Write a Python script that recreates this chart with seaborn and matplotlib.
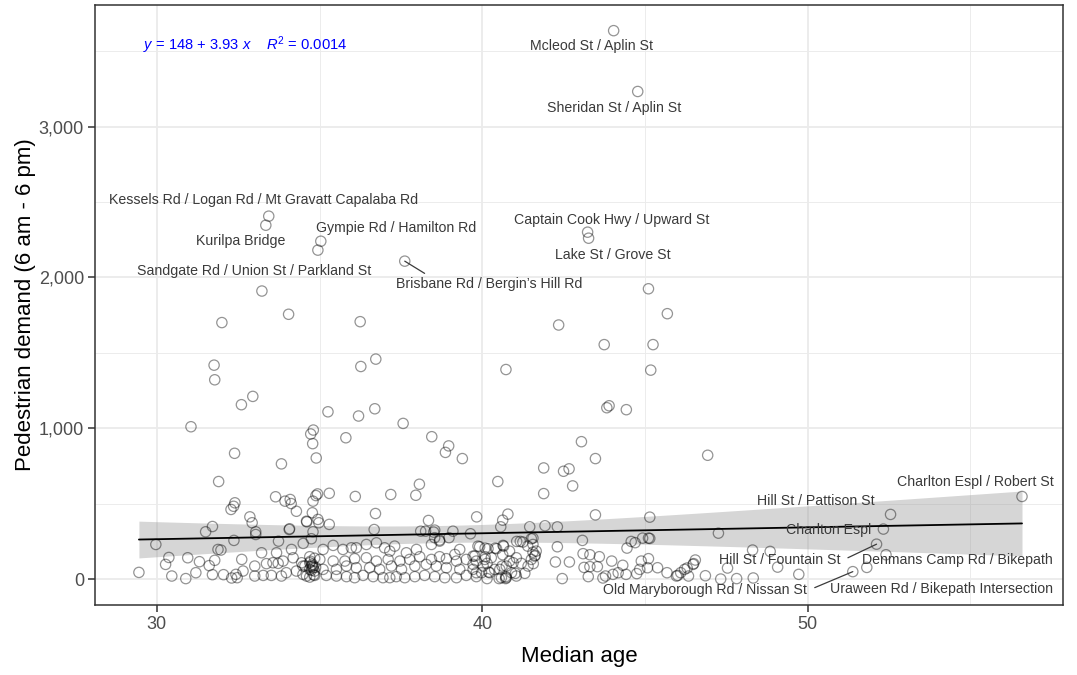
import numpy as np
import pandas as pd
import matplotlib
matplotlib.use("Agg")
import matplotlib.pyplot as plt
import seaborn as sns
from matplotlib.ticker import FuncFormatter, MultipleLocator

sns.set_theme(style="white")
plt.rcParams["font.family"] = ["Liberation Sans", "DejaVu Sans"]
plt.rcParams["mathtext.fontset"] = "custom"
plt.rcParams["mathtext.rm"] = "Liberation Sans"
plt.rcParams["mathtext.it"] = "Liberation Sans:italic"

# ---- Intersections: median age of the catchment vs. daytime pedestrian counts ----
age_upper = [44.04, 44.78, 33.44, 33.35, 35.04, 34.95, 37.62, 43.24, 43.27,
             33.23, 32.0, 34.05, 36.25, 36.73, 36.27, 31.76, 31.78, 32.95, 32.6,
             35.26, 36.2, 36.7, 37.57, 31.05, 34.81, 34.73, 34.79, 34.9, 35.81,
             32.39, 33.83, 38.45, 38.97, 38.87, 39.39, 45.11, 45.69, 42.35, 43.75,
             45.25, 40.73, 45.18, 43.83, 43.9, 44.43, 43.05, 43.48, 46.93, 41.89,
             42.5, 42.67]
demand_upper = [3635, 3232, 2406, 2346, 2240, 2181, 2108, 2300, 2260,
                1910, 1701, 1756, 1707, 1459, 1410, 1419, 1322, 1212, 1157,
                1110, 1082, 1130, 1033, 1011, 989, 963, 899, 804, 938,
                835, 765, 945, 884, 841, 800, 1925, 1760, 1685, 1555,
                1555, 1390, 1386, 1137, 1150, 1124, 912, 800, 822, 738,
                716, 732]

age_mid = [31.9, 32.4, 32.36, 32.28, 32.86, 32.93, 33.04, 33.04, 31.71, 31.5,
           29.97, 33.65, 33.94, 34.1, 34.13, 34.29, 34.8, 34.89, 34.94, 34.78,
           34.61, 34.95, 34.98, 35.3, 35.3, 34.08, 34.8, 36.1, 36.72, 36.68,
           37.19, 37.96, 38.07, 38.35, 39.83, 38.54, 39.64, 39.1, 38.11, 40.48,
           41.89, 42.78, 43.48, 45.15, 40.79, 40.63, 40.57, 41.46, 41.93, 42.31,
           47.26, 52.55, 52.33, 56.59, 34.07, 34.6, 34.75, 38.26, 38.51]
demand_mid = [648, 507, 484, 463, 414, 375, 315, 297, 350, 315,
              231, 547, 518, 529, 502, 451, 518, 555, 566, 441,
              381, 397, 375, 570, 364, 335, 315, 549, 436, 330,
              562, 557, 630, 390, 414, 326, 302, 319, 319, 648,
              568, 619, 427, 412, 432, 392, 348, 348, 355, 348,
              306, 430, 333, 549, 330, 385, 269, 319, 313]

age_low_west = [29.45, 30.37, 30.27, 30.95, 31.31, 31.61, 31.78, 32.61, 31.2,
                30.89, 30.46, 31.88, 31.97, 33.74, 32.37, 34.5, 31.71, 32.05,
                32.3, 32.47, 32.43, 32.65, 33.01, 33.01, 33.22, 33.37, 33.57,
                33.73, 33.88, 33.68, 34.14, 34.19, 33.98, 33.83, 33.27, 33.52,
                34.29, 34.49, 34.6, 34.45, 34.72, 34.78, 34.85, 34.75, 34.82,
                34.88, 34.7, 34.7, 34.75, 34.8, 34.7, 34.85]
demand_low_west = [46, 145, 99, 143, 117, 91, 126, 132, 44,
                   5, 22, 198, 194, 253, 258, 238, 31, 31,
                   9, 11, 33, 55, 88, 22, 176, 104, 110,
                   106, 121, 176, 198, 143, 44, 22, 26, 26,
                   55, 88, 22, 110, 120, 100, 140, 60, 30,
                   80, 15, 110, 88, 77, 66, 55]

age_low_centre = [35.11, 35.42, 35.72, 35.98, 36.13, 36.44, 36.75, 37.0, 37.31,
                  37.16, 37.67, 37.98, 38.44, 38.69, 39.31, 39.16, 39.72, 39.87,
                  34.7, 35.01, 35.42, 35.78, 36.08, 36.44, 36.75, 37.11, 37.47,
                  37.77, 38.08, 38.44, 38.69, 38.9, 39.21, 39.51, 39.82,
                  34.55, 34.8, 35.11, 35.52, 35.83, 36.13, 36.54, 36.85, 37.21,
                  37.52, 37.93, 38.28, 38.59, 38.9, 39.31, 39.72,
                  34.49, 34.85, 35.21, 35.52, 35.83, 36.08, 36.34, 36.65, 36.95,
                  37.16, 37.36, 37.62, 37.93, 38.23, 38.54, 38.85, 39.21, 39.51,
                  39.82, 38.54, 38.98, 38.69]
demand_low_centre = [198, 225, 198, 209, 209, 231, 242, 209, 220,
                     187, 176, 198, 231, 253, 198, 165, 154, 220,
                     150, 132, 121, 121, 137, 143, 121, 132, 121,
                     132, 150, 132, 150, 137, 121, 132, 121,
                     88, 88, 66, 66, 88, 77, 77, 66, 88,
                     66, 88, 99, 88, 77, 66, 66,
                     33, 26, 26, 22, 18, 11, 26, 18, 11,
                     11, 18, 11, 18, 26, 18, 11, 11, 26,
                     18, 276, 276, 260]

age_low_east = [42.31, 41.56, 41.17, 41.06, 41.4, 41.56, 41.63, 41.57, 41.31,
                41.02, 40.66, 40.63, 40.84, 41.2, 40.61, 40.4, 40.09, 40.09,
                40.15, 40.2, 39.98, 40.72, 40.52, 40.15, 40.72, 40.38,
                41.25, 41.51, 41.56, 41.66, 41.61, 41.51, 41.41, 39.92, 40.18,
                40.44, 40.64, 40.84, 41.05, 40.95, 40.74, 40.54, 40.28, 40.08,
                39.77, 39.72, 40.03, 39.82, 40.23, 40.59, 40.74, 40.9, 41.05,
                42.68, 42.25, 42.46, 43.26, 43.08, 43.1, 43.31, 43.13, 43.31,
                43.54, 43.6, 44.32, 43.98, 43.71, 43.79, 44.02, 44.18, 44.42,
                44.45, 44.58, 44.7, 44.93, 45.11, 44.75, 44.89, 45.11, 45.08,
                45.39, 45.68, 46.01, 46.34, 46.1, 46.3, 46.5, 46.55, 45.97,
                46.22, 46.48, 45.15, 44.84, 46.86, 47.33, 47.82, 48.33, 47.54,
                49.08, 48.31, 48.85, 49.73, 51.39, 51.82, 52.12, 52.41]
demand_low_east = [216, 273, 251, 251, 220, 180, 159, 104, 40,
                   40, 220, 163, 121, 106, 88, 207, 207, 150,
                   106, 48, 44, 5, 5, 5, 18, 66,
                   247, 269, 231, 187, 154, 132, 88, 216, 203,
                   203, 225, 187, 143, 110, 88, 66, 143, 132,
                   154, 99, 88, 44, 44, 11, 11, 44, 22,
                   115, 115, 5, 18, 258, 170, 163, 79, 84,
                   84, 150, 93, 121, 9, 22, 33, 44, 33,
                   207, 251, 243, 273, 273, 38, 121, 137, 77,
                   77, 44, 26, 22, 44, 75, 104, 128, 22,
                   66, 99, 271, 66, 24, 2, 5, 9, 75,
                   81, 194, 185, 33, 51, 79, 233, 163]

# Named sites and the coordinates of the site they describe
site_names = ["Mcleod St / Aplin St", "Sheridan St / Aplin St",
              "Kessels Rd / Logan Rd / Mt Gravatt Capalaba Rd", "Kurilpa Bridge",
              "Gympie Rd / Hamilton Rd", "Sandgate Rd / Union St / Parkland St",
              "Brisbane Rd / Bergin\u2019s Hill Rd", "Captain Cook Hwy / Upward St",
              "Lake St / Grove St", "Charlton Espl / Robert St",
              "Hill St / Pattison St", "Charlton Espl", "Hill St / Fountain St",
              "Denmans Camp Rd / Bikepath", "Old Maryborough Rd / Nissan St",
              "Uraween Rd / Bikepath Intersection"]
site_age = [44.04, 44.78, 33.44, 33.35, 35.04, 34.95, 37.62, 43.24, 43.27,
            56.59, 52.55, 52.33, 52.12, 51.82, 51.39, 52.41]
site_demand = [3635, 3232, 2406, 2346, 2240, 2181, 2108, 2300, 2260,
               549, 430, 333, 233, 79, 51, 163]

# Fitted model reported on the chart
INTERCEPT, SLOPE, R2 = 148, 3.93, 0.0014

df = pd.DataFrame({
    "median_age": age_upper + age_mid + age_low_west + age_low_centre + age_low_east,
    "demand": demand_upper + demand_mid + demand_low_west + demand_low_centre + demand_low_east,
})

# ---- figure ----
fig = plt.figure(figsize=(10.77, 6.75), dpi=100)
ax = fig.add_axes([0.0882, 0.1037, 0.8988, 0.8889])

# confidence band of the linear fit
x = df["median_age"].to_numpy(float)
y = df["demand"].to_numpy(float)
n = len(x)
xbar = x.mean()
sxx = ((x - xbar) ** 2).sum()
resid = y - (INTERCEPT + SLOPE * x)
s = np.sqrt((resid ** 2).sum() / (n - 2))
xs = np.linspace(x.min(), x.max(), 120)
fit = INTERCEPT + SLOPE * xs
half = 1.966 * s * np.sqrt(1.0 / n + (xs - xbar) ** 2 / sxx)

sns.scatterplot(data=df, x="median_age", y="demand", ax=ax, s=55,
                facecolor="none", edgecolor="black", alpha=0.42, linewidth=0.9,
                zorder=3)
ax.fill_between(xs, fit - half, fit + half, color="#999999", alpha=0.4,
                linewidth=0, zorder=2)
sns.lineplot(x=xs, y=fit, ax=ax, color="black", linewidth=1.3, zorder=4)

# site labels (text position in data units, optional leader segment)
label_pos = {
    "Mcleod St / Aplin St": (43.36, 3536),
    "Sheridan St / Aplin St": (44.04, 3120),
    "Kessels Rd / Logan Rd / Mt Gravatt Capalaba Rd": (33.29, 2512),
    "Kurilpa Bridge": (32.58, 2240),
    "Gympie Rd / Hamilton Rd": (37.37, 2327),
    "Sandgate Rd / Union St / Parkland St": (32.98, 2042),
    "Brisbane Rd / Bergin\u2019s Hill Rd": (40.2, 1956),
    "Captain Cook Hwy / Upward St": (43.98, 2379),
    "Lake St / Grove St": (44.01, 2148),
    "Charlton Espl / Robert St": (55.16, 648),
    "Hill St / Pattison St": (50.25, 516),
    "Charlton Espl": (50.65, 324),
    "Hill St / Fountain St": (49.14, 126),
    "Denmans Camp Rd / Bikepath": (54.61, 126),
    "Old Maryborough Rd / Nissan St": (46.84, -73),
    "Uraween Rd / Bikepath Intersection": (54.12, -66),
}
leaders = {
    "Brisbane Rd / Bergin\u2019s Hill Rd": (38.23, 2027),
    "Hill St / Fountain St": (51.24, 143),
    "Old Maryborough Rd / Nissan St": (50.22, -55),
}
for name, sx, sy in zip(site_names, site_age, site_demand):
    tx, ty = label_pos[name]
    ax.text(tx, ty, name, ha="center", va="center", fontsize=10.2,
            color="#3a3a3a", zorder=5)
    if name in leaders:
        lx, ly = leaders[name]
        ax.plot([sx, lx], [sy, ly], color="#3a3a3a", linewidth=0.9, zorder=5)

# regression equation
ax.text(29.57, 3536, rf"$y$ = {INTERCEPT} + {SLOPE} $x$    $R^2$ = {R2}",
        ha="left", va="center", fontsize=10.6, color="blue", zorder=5)

# axes styling (black & white theme)
ax.set_xlim(28.1, 57.85)
ax.set_ylim(-170, 3805)
ax.xaxis.set_major_locator(MultipleLocator(10))
ax.xaxis.set_minor_locator(MultipleLocator(5))
ax.yaxis.set_major_locator(MultipleLocator(1000))
ax.yaxis.set_minor_locator(MultipleLocator(500))
ax.yaxis.set_major_formatter(FuncFormatter(lambda v, p: f"{int(v):,}"))
ax.grid(which="major", color="#EBEBEB", linewidth=1.3)
ax.grid(which="minor", color="#EBEBEB", linewidth=0.65)
ax.set_axisbelow(True)
for sp in ax.spines.values():
    sp.set_color("#333333")
    sp.set_linewidth(1.1)
ax.tick_params(which="major", bottom=True, left=True, direction="out",
               length=5, width=1.1, color="#333333", labelsize=13,
               labelcolor="#4D4D4D", pad=3)
ax.tick_params(which="minor", bottom=False, left=False, length=0)
ax.set_xlabel("Median age", fontsize=16, color="black", labelpad=9)
ax.set_ylabel("Pedestrian demand (6 am - 6 pm)", fontsize=16, color="black",
              labelpad=2)

fig.savefig("out.png", dpi=100)
